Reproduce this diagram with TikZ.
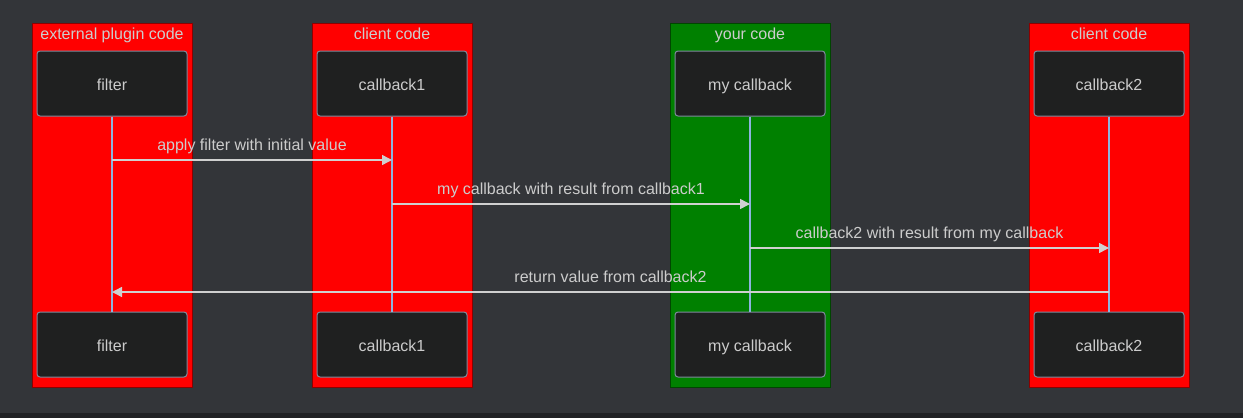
\documentclass[tikz,border=0pt]{standalone}
\usepackage{fontspec}
\setmainfont{Liberation Sans}
\usetikzlibrary{arrows.meta, positioning}
\definecolor{bgcol}{HTML}{333539}
\definecolor{stripcol}{HTML}{212225}
\definecolor{actorfill}{HTML}{1F2020}
\definecolor{actorline}{HTML}{7F8A9C}
\definecolor{lifecol}{HTML}{8DB4DE}
\definecolor{msgcol}{HTML}{D0D0D0}
\definecolor{textcol}{HTML}{CCCCCC}
\definecolor{grpred}{HTML}{FF0000}
\definecolor{grpgreen}{HTML}{008000}
\tikzset{
  group/.style={draw=#1!55!black, fill=#1, line width=1pt, minimum width=160pt,
    minimum height=364pt, anchor=north west, inner sep=0pt},
  grouptitle/.style={text=textcol, anchor=center, text height=13.5pt, text depth=3.5pt},
  actor/.style={draw=actorline, fill=actorfill, rounded corners=3pt, line width=1pt,
    minimum width=150pt, minimum height=65pt, text=textcol,
    text height=16.5pt, text depth=3.5pt},
  lifeline/.style={draw=lifecol, line width=1.5pt},
  msg/.style={draw=msgcol, line width=1.5pt, -{Triangle[length=10pt,width=10pt]}},
  msglabel/.style={text=textcol, above=1.5pt, text height=11.5pt, text depth=3.5pt}
}
\begin{document}
\begin{tikzpicture}[x=1pt,y=-1pt,font=\fontsize{16}{19}\selectfont]
    \fill[bgcol] (0,0) rectangle (1243,418);
    \fill[stripcol] (0,413) rectangle (1243,418);
    \useasboundingbox (0,0) rectangle (1243,418);

    % boxes
    \node[group=grpred]   (g_ext) at (32,23)   {};
    \node[group=grpred]   (g_cl1) at (312,23)  {};
    \node[group=grpgreen] (g_my)  at (670,23)  {};
    \node[group=grpred]   (g_cl2) at (1029,23) {};
    \node[grouptitle] at (112,34)  {external plugin code};
    \node[grouptitle] at (392,34)  {client code};
    \node[grouptitle] at (750,34)  {your code};
    \node[grouptitle] at (1109,34) {client code};

    % participants
    \node[actor] (filter)  at (112,83.5)  {filter};
    \node[actor] (cb1)     at (392,83.5)  {callback1};
    \node[actor] (mycb)    at (750,83.5)  {my callback};
    \node[actor] (cb2)     at (1109,83.5) {callback2};
    \node[actor] (filter') at (112,344.5)  {filter};
    \node[actor] (cb1')    at (392,344.5)  {callback1};
    \node[actor] (mycb')   at (750,344.5)  {my callback};
    \node[actor] (cb2')    at (1109,344.5) {callback2};

    \foreach \p in {filter, cb1, mycb, cb2}
      \draw[lifeline] (\p.south) -- (\p'.north);

    % messages
    \coordinate (y1) at (0,160);
    \coordinate (y2) at (0,204);
    \coordinate (y3) at (0,248);
    \coordinate (y4) at (0,292);
    \draw[msg] (filter |- y1) -- node[msglabel] {apply filter with initial value} (cb1 |- y1);
    \draw[msg] (cb1 |- y2) -- node[msglabel] {my callback with result from callback1} (mycb |- y2);
    \draw[msg] (mycb |- y3) -- node[msglabel] {callback2 with result from my callback} (cb2 |- y3);
    \draw[msg] (cb2 |- y4) -- node[msglabel] {return value from callback2} (filter |- y4);
\end{tikzpicture}
\end{document}
